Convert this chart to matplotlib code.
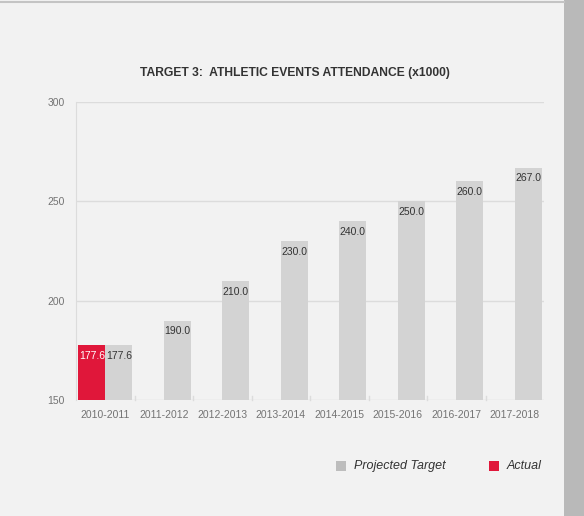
import matplotlib.pyplot as plt
import numpy as np
from matplotlib.lines import Line2D

plt.rcParams['font.family'] = ['Liberation Sans', 'DejaVu Sans']

# Data
seasons = ['2010-2011', '2011-2012', '2012-2013', '2013-2014',
           '2014-2015', '2015-2016', '2016-2017', '2017-2018']
projected = [177.6, 190.0, 210.0, 230.0, 240.0, 250.0, 260.0, 267.0]
actual = [177.6]

BG = '#f2f2f2'
GRAY_BAR = '#d3d3d3'
RED = '#e0173a'
TEXT = '#333333'
TICK = '#737373'

fig = plt.figure(figsize=(5.84, 5.16), dpi=100)
fig.patch.set_facecolor(BG)

# grey strip on the right and thin rule at the top
fig.add_artist(plt.Rectangle((564 / 584, 0), 20 / 584, 1, transform=fig.transFigure,
                             facecolor='#b9b9b9', edgecolor='none'))
fig.add_artist(Line2D([0, 564 / 584], [1 - 2 / 516, 1 - 2 / 516], transform=fig.transFigure,
                      color='#c4c4c4', lw=1.5))

ax = fig.add_axes([76 / 584, 1 - 400 / 516, 468 / 584, 298 / 516])
ax.set_facecolor(BG)

x = np.arange(len(seasons))
w = 0.46
b_act = ax.bar(x[:len(actual)] - w / 2, np.array(actual) - 150, w, bottom=150,
               color=RED, zorder=3)
b_proj = ax.bar(x + w / 2, np.array(projected) - 150, w, bottom=150,
                color=GRAY_BAR, zorder=3)

for rect, v in zip(b_proj, projected):
    ax.text(rect.get_x() + rect.get_width() / 2, v - 5.5, f'{v:.1f}',
            ha='center', va='center', fontsize=7.5, color=TEXT, zorder=4)
for rect, v in zip(b_act, actual):
    ax.text(rect.get_x() + rect.get_width() / 2, v - 5.5, f'{v:.1f}',
            ha='center', va='center', fontsize=7.5, color='white', zorder=4)

ax.set_xlim(-0.5, len(seasons) - 0.5)
ax.set_ylim(150, 300)
ax.set_yticks([150, 200, 250, 300])
ax.yaxis.grid(True, color='#dcdcdc', lw=1, zorder=0)
ax.set_xticks(x)
ax.set_xticklabels(seasons)
ax.tick_params(axis='both', length=0, labelsize=7.5, labelcolor=TICK)
ax.tick_params(axis='x', pad=7)
ax.tick_params(axis='y', pad=8)

# small separators between season groups
for s in np.arange(0.5, len(seasons) - 0.5, 1.0):
    ax.plot([s, s], [150, 152], color='#dcdcdc', lw=1, zorder=2, clip_on=False)

for side in ['top', 'right', 'bottom']:
    ax.spines[side].set_visible(False)
ax.spines['left'].set_color('#dcdcdc')

fig.text(295 / 584, 1 - 73 / 516, 'TARGET 3:  ATHLETIC EVENTS ATTENDANCE (x1000)',
         ha='center', va='center', fontsize=8.7, fontweight='bold', color=TEXT)

# legend
ly = 1 - 466 / 516
fig.add_artist(plt.Rectangle((336 / 584, ly - 5 / 516), 10 / 584, 10 / 516,
                             transform=fig.transFigure, facecolor='#bdbdbd', edgecolor='none'))
fig.text(354 / 584, ly, 'Projected Target', ha='left', va='center', fontsize=9,
         style='italic', color=TEXT)
fig.add_artist(plt.Rectangle((489 / 584, ly - 5 / 516), 10 / 584, 10 / 516,
                             transform=fig.transFigure, facecolor=RED, edgecolor='none'))
fig.text(507 / 584, ly, 'Actual', ha='left', va='center', fontsize=9,
         style='italic', color=TEXT)

fig.savefig('out.png', dpi=100, facecolor=BG)
